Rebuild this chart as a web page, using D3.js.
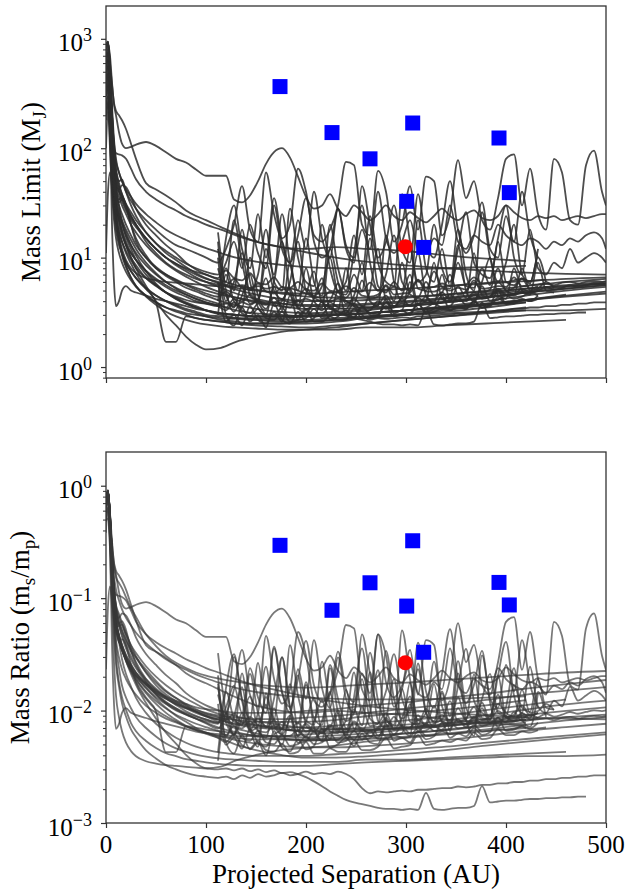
<!DOCTYPE html>
<html>
<head>
<meta charset="utf-8">
<script src="https://cdn.jsdelivr.net/npm/d3@7"></script>
<style>
  body { margin: 0; background: #fff; }
  svg { display: block; }
  text { font-family: "Liberation Serif", "Times New Roman", Times, serif; fill: #000; }
</style>
</head>
<body>
<svg id="chart" width="627" height="893"></svg>
<script>
// ---------------- DATA ----------------
const MJ_IN_MSUN = 0.000954;           // Jupiter mass in solar masses
const sepDomain = [0, 500];
const sepTicks = [0, 100, 200, 300, 400, 500];
const limitDomain = [0.794, 1995];
const limitTickExp = [0, 1, 2, 3];
const ratioDomain = [0.001, 1.995];
const ratioTickExp = [-3, -2, -1, 0];

// separation grid (AU) for the smooth contrast curves
const smoothGrid = [0,2,4,6,8,10,13,16,20,25,30,40,50,60,70,80,90,100,115,130,150,175,200,230,260,300,340,380,420,460,500];

// mass limits (M_J) on smoothGrid
const smoothLimits = [
  [330,380,200,80,40,28,20,16,13,11,9.5,7.6,6.4,5.6,5.0,4.6,4.2,3.9,3.6,3.3,3.1,3.0,2.9,3.0,3.1,3.3,3.6,4.0,4.5,5.0,5.4],
  [400,500,300,130,60,40,34,36,30,20,15,10.5,8,6.8,6.0,5.3,4.9,4.5,4.0,3.7,3.4,3.2,3.1,3.2,3.4,3.6,3.9,4.3,4.8],
  [250,320,150,60,32,22,17,14,11.5,9.5,8,6.5,5.6,4.8,4.3,3.9,3.6,3.3,3.0,2.8,2.7,2.6,2.6,2.7,2.8,3.0,3.3,3.7,4.1,4.6],
  [700,850,500,200,90,55,40,33,27,22,19,15,12,10,8.5,7.5,6.6,6.0,5.3,4.7,4.2,3.8,3.6,3.6,3.7,3.9,4.2,4.6,5.0,5.4,5.8],
  [180,270,120,50,26,18,13,11,9,7.5,6.5,5.3,4.5,4.0,3.6,3.3,3.1,2.9,2.7,2.6,2.5,2.5,2.5,2.6,2.8,3.0,3.2,3.5,3.9],
  [500,650,400,180,90,60,45,38,31,26,22,17,13.5,11,9.5,8.2,7.2,6.5,5.7,5.1,4.6,4.2,4.0,4.0,4.1,4.3,4.6,5.0,5.5,6.0,6.4],
  [500,570,320,120,45,24,15,10.5,8.2,6.6,5.5,4.4,3.7,3.2,2.9,2.7,2.55,2.45,2.35,2.3,2.25,2.2,2.2,2.2,2.3,2.3,2.4,2.5,2.6,2.7],
  [360,470,280,120,65,45,36,30,25,20,17,13,10.5,8.8,7.6,6.7,6.0,5.4,4.8,4.3,3.9,3.6,3.4,3.4,3.5,3.7,4.0,4.4,4.8,5.2,5.6],
  [100,230,100,40,22,15,11,9,7.4,6.2,5.4,4.5,3.9,3.5,3.2,3.0,2.8,2.7,2.6,2.5,2.5,2.5,2.6,2.7,2.9,3.1,3.4,3.7,4.1,4.5,4.9],
  [450,560,350,170,100,75,60,50,42,36,31,25,21,18,16,14.5,13.2,12.2,11,10,9.2,8.6,8.2,8.0,7.9,7.9,8.0,8.2,8.4],
  [560,650,400,170,75,45,30,21,15.5,12,9.5,7,5.6,4.8,4.2,3.8,3.5,3.3,3.1,3.0,2.9,2.9,2.9,3.0,3.1,3.3,3.5,3.8,4.1,4.4,4.7],
  [300,350,180,70,35,24,18,14,11,8.8,7.2,5.2,3.9,1.7,1.7,2.9,2.8,2.7,2.6,2.5,2.4,2.35,2.3,2.4,2.5,2.7,2.9,3.2,3.5],
  [340,420,230,90,45,30,22,17,13,10,8,5.5,4,3,2.4,1.9,1.6,1.45,1.5,1.7,1.9,2.1,2.2,2.3,2.5,2.7,2.9,3.1,3.3],
  [550,700,420,170,70,40,32,34,30,20,14,10,8,7,6.3,5.7,5.3,5.0,4.6,4.3,4.0,3.8,3.7,3.7,3.8,4.0,4.3,4.7,5.2,5.6,6.0],
  [800,940,600,380,260,220,200,180,150,110,80,48,42,37,32,27,24,22,19,16.5,14,12.5,12,12.5,12,11.5,10.5,9.8,9.3],
  [620,750,450,200,110,90,88,86,80,65,52,40,34,30,27,24,22,20,18,16,14,12.5,11.2,10,9.2,8.5,8.0,7.6,7.3,7.1,7.0],
  [230,300,160,70,40,30,25,21,17,13,10.5,7.5,5.8,4.8,4.2,3.8,3.5,3.3,3.1,3.0,2.9,2.9,3.0,3.1,3.3,3.6,3.9,4.3,4.8,5.2,5.6],
  [200,260,150,80,55,45,40,36,30,24,20,14,11,9,7.8,7,6.4,6,5.6,5.3,5.0,4.8,4.7,4.8,5.0,5.2,5.5,5.8,6.1,6.4,6.6],
  [680,750,420,140,50,25,15,11,8.5,6.5,5.5,4.5,3.9,3.5,3.3,3.1,3.0,2.9,2.8,2.75,2.7,2.7,2.7,2.8,2.9,3.0,3.1,3.2,3.3,3.3,3.4],
  [11,40,60,45,30,20,14,11,9,7.5,6.5,5.2,4.5,4.0,3.7,3.4,3.2,3.0,2.9,2.8,2.8,2.8,2.9,3.0,3.1,3.3,3.5,3.7,3.9],
  [440,560,320,140,70,48,42,46,44,36,28,20,16,13,11,9,7.8,7,6.2,5.6,5.1,4.7,4.4,4.3,4.3,4.4,4.6,4.9,5.2,5.5,5.8],
  [400,480,150,20,6,3.6,4,5,5.5,5,4.8,4.5,4.2,4.0,3.8,3.6,3.4,3.3,3.1,3.0,2.9,2.9,2.9,3.0,3.1,3.3,3.5,3.8,4.1]
];
// host star masses (M_sun) for the smooth curves
const smoothHostMass = [0.42,0.55,0.35,0.9,0.3,0.7,0.6,0.5,0.25,0.6,0.7,0.38,0.45,0.75,1.2,0.8,0.33,0.28,0.8,0.45,0.6,0.5];

// fine separation grid (AU) for the noisy outer parts
const noisyTailGrid = [112,120,128,136,144,152,160,168,176,184,192,200,208,216,224,232,240,248,256,264,272,280,288,296,304,312,320,328,336,344,352,360,368,376,384,392,400,408,416,424,432,440,448,456,464,472,480,488,496,500];

// inner parts (on smoothGrid, 0-100 AU) of the noisy curves
const noisyHeads = [
  [800,900,700,400,250,200,140,110,100,103,108,114,105,92,80,74,64,56],
  [850,930,550,250,120,80,60,50,40,33,28,22,18,15,13,12,11,10],
  [], [],
  [330,400,220,90,45,30,22,18,14,11,9.5,7.5,6.2,5.4,4.8,4.4,4.0,3.8],
  [], [],
  [600,750,450,200,100,65,48,38,30,24,20,15,12,10,8.8,8,7.4,7],
  [],
  [300,370,200,80,42,30,24,20,16,13,11,8.5,7,6,5.3,4.8,4.4,4.1],
  [900,940,500,150,50,25,16,12,9.5,8,7.2,6.5,6.2,6,5.9,5.8,5.7,5.6],
  [850,930,520,180,70,38,24,17,13,10,8.5,6.5,5.5,4.8,4.4,4.1,3.9,3.8],
  [], [], [],
  [380,470,260,110,55,38,30,25,20,16,13,10,8.2,7,6.2,5.6,5.1,4.7],
  [520,610,380,160,80,55,42,35,28,23,20,15,12,10,8.8,7.8,7,6.4],
  [300,370,210,90,48,34,27,22,18,14.5,12,9,7.2,6,5.2,4.6,4.2,3.9],
  [680,800,480,210,100,62,50,52,40,30,24,17,13.5,11.5,10,8.8,8,7.4]
];
// outer parts (on noisyTailGrid) of the noisy curves, M_J
const noisyTails = [
  [56,56,34,32,37,50,72,92,100,82,55,36,28,30,38,28,24,30,26,22,25,30,24,22,26,23,21,24,28,24,22,25,27,23,22,24,30,26,23,22,24,23,24,22,23,24,23,24,25,25],
  [9,12,20,45,18,14,60,25,15,20,65,40,16,14,18,30,75,70,20,16,62,40,14,20,45,18,55,50,16,25,78,35,50,22,18,35,80,88,30,65,25,18,80,60,22,20,70,95,40,30],
  [4,15,30,12,8,25,10,35,14,9,22,12,40,15,10,28,12,9,45,20,10,14,30,12,9,38,14,10,20,50,18,11,16,32,12,10,24,14,40,16,10],
  [3,8,5,18,6,4,12,7,25,9,5,15,6,4.5,20,8,5,11,30,9,5,7,16,6,5,22,8,6,12,5.5,18,7,5,26,10,6,9,20,7,6,12],
  [3.6,7,4,3.5,10,4.5,3.4,6,14,5,3.6,8,4,3.5,12,6,3.8,4.5,9,4,3.6,16,6,4,5,11,4.5,3.8,7,4.2,13,5,4,6,10,4.5,4.2,8,5,4.6,9,5,4.8],
  [10,3,2.4,3.5,2.6,3,2.3,3.8,2.7,2.5,3.2,2.6,2.8,4,2.7,2.9,3.3,2.8,3.6,3,2.9,4.2,3.1,3.3,3,3.8,3.2,3.4,4.5,3.3,3.6,3.4,4,3.5,3.7,5,3.8,3.9,4.2,4,4.5],
  [17,5,3.2,4.5,7,3.5,3,5.5,3.3,9,3.5,3.1,4.2,6.5,3.4,3.3,8,3.6,3.5,5,12,4,3.6,4.5,7,3.8,4,9,4.2,4,5.5,4.3,11,4.5,4.4,6,5,4.6,8,5,5.2,6,5.3],
  [6.5,9,14,8,20,11,8,30,12,9,16,35,14,10,12,28,13,10,18,12,40,15,11,14,22,12,11,15,13,30,14,12,16,14,13,20,16,14,13,15,14,12,14,13,15,14,16,17,15,12],
  [12,6,22,9,5,7,18,6,5,28,10,6,5.5,20,8,5,6,16,7,24,9,6,5.5,38,14,6,7,20,8,6,12,26,9,7,6.5,15,30,10,7,18,8,7,9,8,12,9,10,11,10,9],
  [3.8,3.5,4.2,3.3,3.1,3.8,3,2.9,3.5,2.8,2.9,3.4,2.9,3,3.6,3,3.1,3.8,3.2,3.3,4,3.4,3.5,4.2,3.6,3.7,4.4,3.8,3.9,4.6,4,4.1,4.8,4.2,4.4,5,4.5,4.6,5.2,4.8,5,5.4,5.1,5.3,5.6,5.4,5.6,5.8,5.7,5.8],
  [5.5,5.6,5.4,5.6,5.3,5.5,5.2,5.4,5.1,5.2,5,4.7,4.3,3.9,3.5,3.2,2.95,2.8,2.7,2.6,2.5,2.45,2.45,2.4,2.45,2.4,3.4,2.45,2.4,2.45,2.5,2.5,2.6,3.9,2.8,2.85,2.9,2.9,2.95,3,3,3.05,3.05,3.1,3.1,3.15,3.15],
  [3.7,3.8,3.6,3.9,3.7,4,3.8,3.9,4.1,3.9,4,4.2,4,4.1,4,4.2,4,3.6,3,2.7,2.8,2.75,2.8,2.85,2.8,2.9,2.9,2.95,3,3,3.1,3.05,3.1,3.2,3.2,3.3,3.3,3.4,3.4,3.5,3.5,3.6,3.6,3.7,3.7,3.8,3.8,3.9,3.9,3.9],
  [8,4.5,3.5,5.5,3.8,4.2,6.5,3.6,4,5.2,3.4,4.6,7.5,3.9,4.1,5.8,4,3.8,6.2,4.2,4.4,5.5,4,9,4.6,4.3,6,4.5,4.8,7,4.6,4.9,6.2,4.8,5.1,8,5,5.3,6.4,5.2,5.5],
  [6,2.6,3,2.4,3.6,2.7,2.5,3.2,2.6,4.5,2.7,2.8,3.4,2.8,2.9,5,3,2.9,3.5,3.1,3,3.9,3.2,3.3,6,3.4,3.5,3.8,3.5,3.6,4.4,3.7,3.8,5.5,4,4.1,4.5,4.2,4.4,4.8,4.5],
  [14,4,6,11,4.5,4,9,5,4.2,6,14,5,4.5,5.5,10,4.8,4.6,7,5,15,5.5,4.8,6,5,12,5.2,5,7.5,5.4,5.2,9,5.5,5.3,8,5.6,14,6,5.6,6.5,5.8,10,6],
  [4.4,4.9,4.2,4.0,4.6,3.9,3.7,4.3,3.6,3.5,4.1,3.4,3.6,3.3,3.9,3.5,3.4,4.2,3.6,3.5,3.7,4.5,3.6,3.8,3.7,4.3,3.9,4.0,4.8,4.1,4.2,4.0,4.6,4.3,4.4,5.2,4.6,4.5,4.9,4.7,5.0],
  [6.0,5.6,6.4,5.3,5.1,5.8,4.9,4.7,5.4,4.6,4.5,5.2,4.4,4.3,4.9,4.4,4.3,5.3,4.5,4.4,4.6,5.6,4.6,4.7,4.8,6.2,4.9,4.9,5.2,5.0,5.3,5.1,5.9,5.2,5.3,5.5,5.4,6.6,5.5,5.6,5.7,5.8,5.6,5.9,6.0,5.8,6.0,6.1,6.0,6.1],
  [3.6,3.3,3.9,3.1,2.9,3.4,2.8,2.7,3.2,2.6,2.7,3.3,2.6,2.6,2.9,2.7,2.7,3.4,2.8,2.8,3.0,3.6,2.9,3.0,3.1,3.8,3.1,3.2,3.4,3.3,3.5,3.4,4.0,3.5,3.6,4.3,3.8,3.8,4.1,4.0,4.2],
  [7,7.6,6.5,6.2,7.2,5.9,5.7,6.6,5.4,5.3,6,5.1,5.0,5.8,5.0,4.9,5.5,4.9,4.9,5.9,5.0,5.0,5.4,5.1,5.2,6.3,5.3,5.4,5.8,5.5,5.6,5.7,6.6,5.8,5.9,6.1,6.0,6.2,6.4,6.1,6.2,6.3]
];
const noisyHostMass = [1.18,1.24,0.9,0.8,0.45,0.55,0.5,0.8,0.7,0.55,1.75,1.4,0.55,0.5,0.65,0.5,0.65,0.6,0.85];

// detected companions (blue squares) and the highlighted candidate (red circle)
const companionSep   = [174, 226, 264, 300.7, 306.7, 317.7, 393, 403.3];
const companionMass  = [366, 139, 80, 32.7, 170, 12.4, 124, 39.3];
const companionRatio = [0.295, 0.078, 0.137, 0.085, 0.324, 0.033, 0.138, 0.087];
const candidateSep   = [299.3];
const candidateMass  = [12.6];
const candidateRatio = [0.0266];

// ---------------- BUILD ----------------
const curves = [];
smoothLimits.forEach((vals, i) => {
  curves.push({host: smoothHostMass[i],
    pts: vals.map((v, j) => ({sep: smoothGrid[j], m: v}))});
});
noisyTails.forEach((tail, i) => {
  const head = noisyHeads[i].map((v, j) => ({sep: smoothGrid[j], m: v}));
  const rest = tail.map((v, j) => ({sep: noisyTailGrid[j], m: v}));
  curves.push({host: noisyHostMass[i], pts: head.concat(rest)});
});

const svg = d3.select('#chart');
const x = d3.scaleLinear().domain(sepDomain).range([106, 606]);

const panels = [
  {
    id: 'top',
    y: d3.scaleLog().domain(limitDomain).range([378, 6]),
    top: 6, bottom: 378,
    val: (d, c) => d.m,
    exps: limitTickExp,
    stroke: '#2e2e2e', opacity: 0.85,
    cx: companionMass, cand: candidateMass,
    xLabels: false,
    label: [{t: 'Mass Limit (M'}, {t: 'J', sub: true}, {t: ')'}],
    labelX: 40
  },
  {
    id: 'bot',
    y: d3.scaleLog().domain(ratioDomain).range([823, 452]),
    top: 452, bottom: 823,
    val: (d, c) => d.m * MJ_IN_MSUN / c.host,
    exps: ratioTickExp,
    stroke: '#383838', opacity: 0.68,
    cx: companionRatio, cand: candidateRatio,
    xLabels: true,
    label: [{t: 'Mass Ratio (m'}, {t: 's', sub: true}, {t: '/m'}, {t: 'p', sub: true}, {t: ')'}],
    labelX: 29
  }
];

panels.forEach(p => {
  const g = svg.append('g');
  const y = p.y;
  svg.append('clipPath').attr('id', 'clip-' + p.id)
    .append('rect').attr('x', 106).attr('y', p.top).attr('width', 500).attr('height', p.bottom - p.top);

  const line = d3.line()
    .defined(d => d.v != null && isFinite(d.v))
    .x(d => x(d.sep)).y(d => y(d.v))
    .curve(d3.curveMonotoneX);

  const lg = g.append('g').attr('clip-path', `url(#clip-${p.id})`);
  curves.forEach(c => {
    const pts = c.pts.filter(d => d.m != null && d.sep != null).map(d => ({sep: d.sep, v: p.val(d, c)}));
    lg.append('path').attr('d', line(pts))
      .attr('fill', 'none').attr('stroke', p.stroke)
      .attr('stroke-opacity', p.opacity).attr('stroke-width', 1.8)
      .attr('stroke-linejoin', 'round');
  });

  // companions
  lg.selectAll('rect.comp').data(companionSep).enter().append('rect')
    .attr('x', (d) => x(d) - 7.5).attr('y', (d, i) => y(p.cx[i]) - 7.5)
    .attr('width', 15).attr('height', 15).attr('fill', '#0000ff');
  lg.selectAll('circle.cand').data(candidateSep).enter().append('circle')
    .attr('cx', d => x(d)).attr('cy', (d, i) => y(p.cand[i])).attr('r', 7.5).attr('fill', '#ff0000');

  // frame
  g.append('rect').attr('x', 106).attr('y', p.top).attr('width', 500).attr('height', p.bottom - p.top)
    .attr('fill', 'none').attr('stroke', '#333').attr('stroke-width', 1.3);

  // x axis ticks
  const xa = d3.axisBottom(x).tickValues(sepTicks).tickSize(5).tickFormat('');
  const xg = g.append('g').attr('transform', `translate(0,${p.bottom})`).call(xa);
  xg.select('.domain').remove();
  xg.selectAll('line').attr('stroke', '#333').attr('stroke-width', 1.2);
  if (p.xLabels) {
    g.selectAll('text.xt').data(sepTicks).enter().append('text')
      .attr('x', d => x(d)).attr('y', p.bottom + 30)
      .attr('text-anchor', 'middle').attr('font-size', 25).text(d => d);
  }

  // y axis: major + minor ticks
  const majors = p.exps.map(e => Math.pow(10, e));
  const minors = y.ticks().filter(v => !majors.some(m => Math.abs(m - v) / m < 1e-6));
  const ya = d3.axisLeft(y).tickValues(majors).tickSize(5).tickFormat('');
  const yg = g.append('g').attr('transform', 'translate(106,0)').call(ya);
  yg.select('.domain').remove();
  yg.selectAll('line').attr('stroke', '#333').attr('stroke-width', 1.2);
  const ym = d3.axisLeft(y).tickValues(minors).tickSize(3).tickFormat('');
  const ymg = g.append('g').attr('transform', 'translate(106,0)').call(ym);
  ymg.select('.domain').remove();
  ymg.selectAll('line').attr('stroke', '#333').attr('stroke-width', 1);

  p.exps.forEach(e => {
    const t = g.append('text').attr('x', 92).attr('y', y(Math.pow(10, e)) + 12.5)
      .attr('text-anchor', 'end').attr('font-size', 25);
    t.append('tspan').text('10');
    t.append('tspan').attr('dy', -10).attr('font-size', 18).text(e < 0 ? '\u2212' + Math.abs(e) : String(e));
  });

  // y label
  const cy = (p.top + p.bottom) / 2;
  const lt = g.append('text').attr('transform', `translate(${p.labelX},${cy}) rotate(-90)`)
    .attr('text-anchor', 'middle').attr('font-size', 27);
  let shifted = 0;
  p.label.forEach(part => {
    const ts = lt.append('tspan').text(part.t);
    if (part.sub) { ts.attr('font-size', 19).attr('dy', 6); shifted = 6; }
    else if (shifted) { ts.attr('dy', -shifted); shifted = 0; }
  });
});

svg.append('text').attr('x', 356).attr('y', 883).attr('text-anchor', 'middle')
  .attr('font-size', 27).text('Projected Separation (AU)');
</script>
</body>
</html>
